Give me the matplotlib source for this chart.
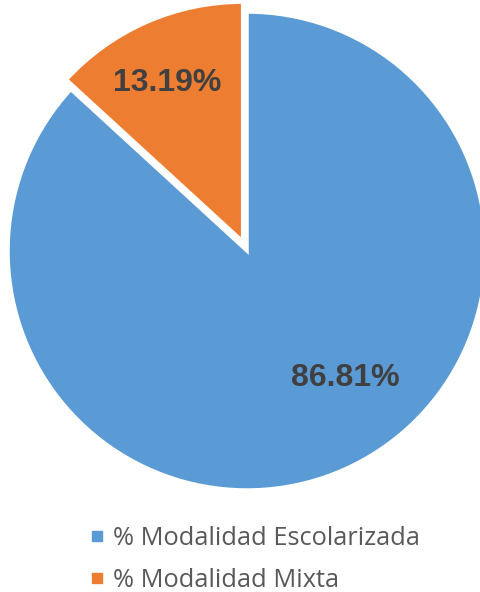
import matplotlib
matplotlib.use("Agg")
import matplotlib.pyplot as plt
from matplotlib.lines import Line2D

labels = ["% Modalidad Escolarizada", "% Modalidad Mixta"]
values = [86.81, 13.19]
colors = ["#5B9BD5", "#ED7D31"]
explode = [0, 0.045]

fig = plt.figure(figsize=(4.8, 5.92), dpi=100)
ax = fig.add_axes([8 / 480, 102 / 592, 478 / 480, 478 / 592])

wedges, texts, autotexts = ax.pie(
    values, colors=colors, explode=explode, startangle=90, counterclock=False,
    autopct=lambda p: "{:.2f}%".format(p), pctdistance=0.8,
    wedgeprops=dict(edgecolor="white", linewidth=2.5),
    textprops=dict(fontsize=23, fontweight="bold", color="#404040",
                   family="Liberation Sans"))
for w in wedges:
    w.set_clip_on(False)
# Excel's best-fit placement for the slice labels
autotexts[0].set_position((0.41, -0.53))
autotexts[1].set_position((-0.335, 0.705))

ax.set_xlim(-1, 1)
ax.set_ylim(-1, 1)
ax.set_aspect("equal")
ax.axis("off")

handles = [Line2D([], [], marker="s", linestyle="none", markersize=7.5,
                  markerfacecolor=c, markeredgecolor=c) for c in colors]
leg = fig.legend(handles, labels, loc="upper left",
                 bbox_to_anchor=(70 / 480, 1 - 508 / 592), frameon=False,
                 handlelength=0.7, handletextpad=0.3, labelspacing=0.69,
                 borderpad=0.2, prop=dict(family="Open Sans", size=18.3))
for t in leg.get_texts():
    t.set_color("#595959")

fig.savefig("out.png", dpi=100)
